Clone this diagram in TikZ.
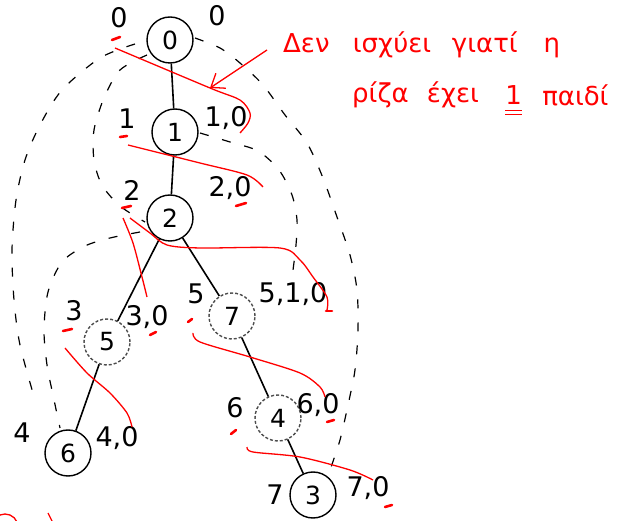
\documentclass[tikz,border=0pt]{standalone}
\usepackage{fontspec}
\setmainfont{DejaVu Sans}
\usepackage{tikz}
\usetikzlibrary{positioning,arrows.meta}

\begin{document}
\begin{tikzpicture}[x=1pt,y=-1pt,
    treenode/.style={circle, draw=black, line width=1.4pt, minimum size=46pt, inner sep=0pt, font=\fontsize{25}{25}\selectfont},
    dashnode/.style={treenode, draw=black!70, densely dashed},
    lab/.style={inner sep=0pt, font=\fontsize{27}{27}\selectfont},
    note/.style={inner sep=0pt, text=red, font=\fontsize{26}{26}\selectfont},
    edge/.style={line width=1.6pt},
    tour/.style={line width=1.2pt, dash pattern=on 9pt off 14pt},
    cross/.style={red, line width=1.3pt},
    tick/.style={red, line width=2.6pt, line cap=round}]

        \useasboundingbox (0,0) rectangle (619,521);

        % the tree
        \node[treenode] (n0) at (170,40) {0};
        \node[treenode] (n1) at (175,132) {1};
        \node[treenode] (n2) at (170,218) {2};
        \node[dashnode] (n5) at (107,342) {5};
        \node[dashnode] (n7) at (232,316) {7};
        \node[treenode] (n6) at (68,453) {6};
        \node[dashnode] (n4) at (278,418) {4};
        \node[treenode] (n3) at (313,495) {3};

        \draw[edge] (n0) -- (n1);
        \draw[edge] (n1) -- (n2);
        \draw[edge] (n2) -- (n5);
        \draw[edge] (n2) -- (n7);
        \draw[edge] (n5) -- (n6);
        \draw[edge] (n7) -- (n4);
        \draw[edge] (n4) -- (n3);

        % numbers left and right of the nodes
        \node[lab] (a0) at (119,18) {0};
        \node[lab] (b0) at (217,16) {0};
        \node[lab] (a1) at (127,119) {1};
        \node[lab] (b1) at (226,118) {1,0};
        \node[lab] (a2) at (132,190) {2};
        \node[lab] (b2) at (230,188) {2,0};
        \node[lab] (a5) at (74,311) {3};
        \node[lab] (b5) at (147,317) {3,0};
        \node[lab] (a7) at (196,294) {5};
        \node[lab] (b7) at (293,294) {5,1,0};
        \node[lab] (a6) at (22,433) {4};
        \node[lab] (b6) at (117,438) {4,0};
        \node[lab] (a4) at (235,408) {6};
        \node[lab] (b4) at (318,405) {6,0};
        \node[lab] (a3) at (275,495) {7};
        \node[lab] (b3) at (368,488) {7,0};

        % dashed tour round the tree
        \draw[tour] plot[smooth] coordinates {(135,44) (100,58) (62,90) (40,125) (25,160) (16,200) (12,250) (14,300) (20,345) (35,400)};
        \draw[tour] plot[smooth] coordinates {(147,55) (120,70) (104,98) (94,130) (94,160) (102,185) (120,206) (145,222)};
        \draw[tour] plot[smooth] coordinates {(140,232) (110,238) (85,246) (62,262) (48,292) (44,330) (47,365) (53,395) (60,428)};
        \draw[tour] plot[smooth] coordinates {(195,38) (220,48) (240,63) (263,85) (285,115) (307,143) (323,178) (337,217) (350,255) (357,290) (358,330) (355,370) (348,405) (340,440) (330,470)};
        \draw[tour] plot[smooth] coordinates {(200,133) (230,142) (258,151) (279,170) (292,195) (297,220) (296,245) (293,270)};

        % red strokes
        \draw[cross] plot[smooth] coordinates {(115,48) (210,88) (240,100) (250,113) (248,123) (240,133)};
        \draw[cross] plot[smooth] coordinates {(128,145) (200,163) (247,175) (263,187)};
        \draw[cross] plot[smooth] coordinates {(123,218) (133,243) (142,277) (147,297)};
        \draw[cross] plot[smooth] coordinates {(130,218) (150,233) (167,245) (200,248) (280,248) (300,260) (313,277) (327,297) (327,310)};
        \draw[cross] plot[smooth] coordinates {(65,348) (87,373) (110,393) (127,413) (132,427)};
        \draw[cross] plot[smooth] coordinates {(193,333) (200,342) (250,357) (300,373) (320,387) (325,397)};
        \draw[cross] plot[smooth] coordinates {(247,447) (253,452) (300,457) (350,470) (373,480)};

        \foreach \x/\y/\u/\v in {112/40/120/37, 120/137/127/136, 122/208/131/206, 236/206/246/203, 63/331/72/329,
                                  150/335/156/332, 188/322/192/319, 326/311/332/311, 231/434/236/430, 327/422/334/420, 385/507/392/505}
            \draw[tick] (\x,\y) -- (\u,\v);

        \draw[cross] (5,527) circle (13);
        \draw[cross] (48,513) -- (52,521);

        % the note
        \node[note, anchor=west] (txt1) at (283,45) {Δεν\hspace{0.9em}ισχύει\hspace{0.8em}γιατί\hspace{1em}η};
        \node[note, anchor=west] (txt2) at (352,95) {ρίζα\hspace{0.7em}έχει};
        \node[note] (one) [right=26pt of txt2] {1};
        \node[note] (txt3) [right=20pt of one] {παιδί};
        \draw[cross] ([yshift=-6pt]one.south west) -- ([yshift=-6pt]one.south east);
        \draw[cross] ([yshift=-10pt]one.south west) -- ([yshift=-10pt]one.south east);

        \coordinate (tip) at (210,88);
        \draw[cross, -{Straight Barb[length=12pt,width=18pt]}] ([xshift=-16pt,yshift=-5pt]txt1.west) -- (tip);

\end{tikzpicture}
\end{document}
